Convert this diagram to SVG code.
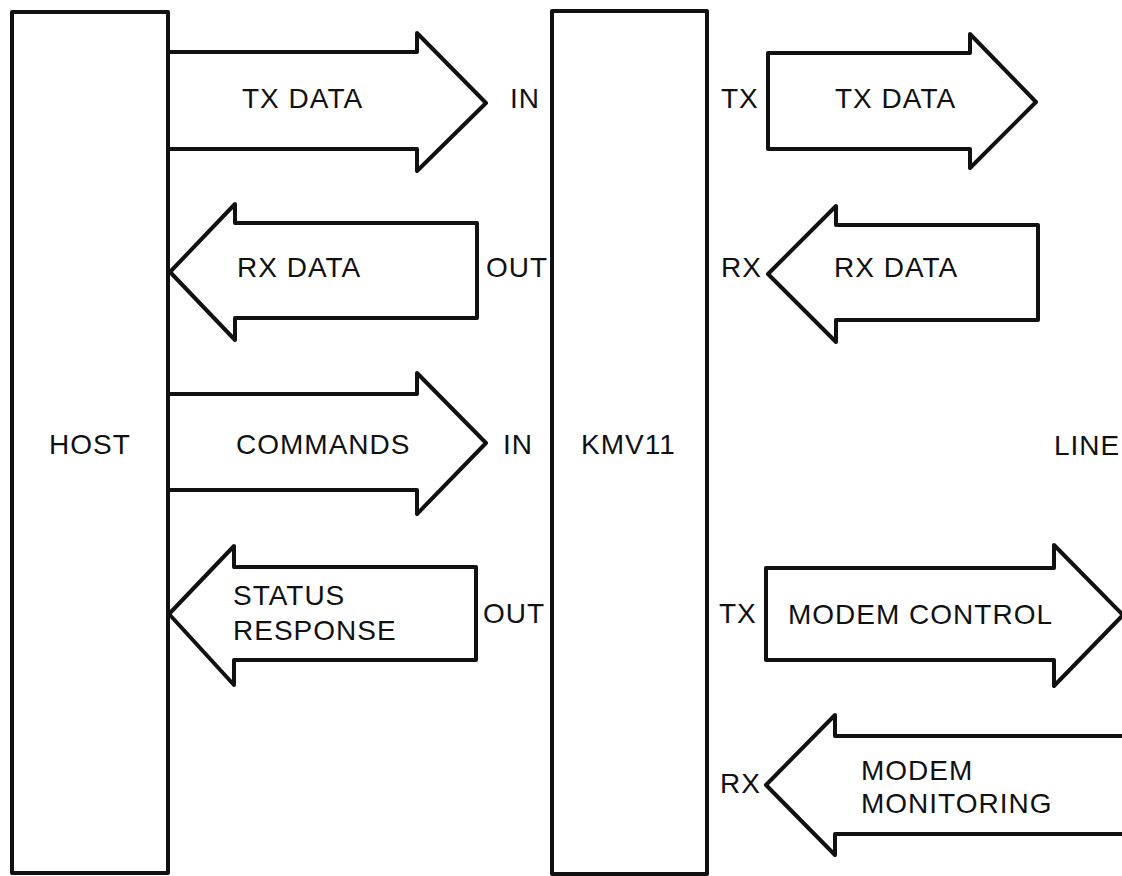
<svg xmlns="http://www.w3.org/2000/svg" width="1122" height="876" viewBox="0 0 1122 876">
<style>
.box{fill:none;stroke:#111;stroke-width:4;stroke-linejoin:round}
.arr{fill:none;stroke:#111;stroke-width:4;stroke-linejoin:round;stroke-linecap:round}
.t{font-family:"Liberation Sans",Arial,sans-serif;font-size:28px;letter-spacing:1px;fill:#111}
</style>
<rect width="1122" height="876" fill="#fff"/>
<g id="host">
<rect class="box" x="12" y="12" width="156" height="861"/>
<text class="t" x="49" y="454">HOST</text>
</g>
<g id="kmv11">
<rect class="box" x="552" y="11" width="155" height="863"/>
<text class="t" x="581" y="454">KMV11</text>
</g>
<g id="line">
<text class="t" x="1054" y="455">LINE</text>
</g>
<g id="connectors">
<g id="host-tx-data">
<path class="arr" d="M168,52 H417 V33 L486,103 L417,171 V149 H168"/>
<text class="t" x="242" y="108">TX DATA</text>
<text class="t" x="510" y="108">IN</text>
</g>
<g id="host-rx-data">
<path class="arr" d="M170,272 L235,204 V223 H477 V318 H235 V340 Z"/>
<text class="t" x="237" y="277">RX DATA</text>
<text class="t" x="486" y="277">OUT</text>
</g>
<g id="host-commands">
<path class="arr" d="M168,394 H417 V373 L486,443 L417,514 V490 H168"/>
<text class="t" x="236" y="454">COMMANDS</text>
<text class="t" x="503" y="454">IN</text>
</g>
<g id="host-status">
<path class="arr" d="M169,614 L234,546 V567 H476 V660 H234 V685 Z"/>
<text class="t" x="233" y="605">STATUS</text>
<text class="t" x="233" y="640">RESPONSE</text>
<text class="t" x="483" y="623">OUT</text>
</g>
<g id="line-tx-data">
<path class="arr" d="M768,53 H970 V34 L1036,102 L970,168 V149 H768 Z"/>
<text class="t" x="721" y="108">TX</text>
<text class="t" x="835" y="108">TX DATA</text>
</g>
<g id="line-rx-data">
<path class="arr" d="M768,274 L836,206 V225 H1038 V320 H836 V342 Z"/>
<text class="t" x="721" y="277">RX</text>
<text class="t" x="834" y="277">RX DATA</text>
</g>
<g id="line-modem-control">
<path class="arr" d="M766,568 H1054 V545 L1123,615 L1054,686 V660 H766 Z"/>
<text class="t" x="719" y="623">TX</text>
<text class="t" x="788" y="624">MODEM CONTROL</text>
</g>
<g id="line-modem-monitoring">
<path class="arr" d="M1130,736 H835 V715 L766,785 L835,855 V834 H1130"/>
<text class="t" x="720" y="793">RX</text>
<text class="t" x="861" y="780">MODEM</text>
<text class="t" x="861" y="813">MONITORING</text>
</g>
</g>
</svg>
